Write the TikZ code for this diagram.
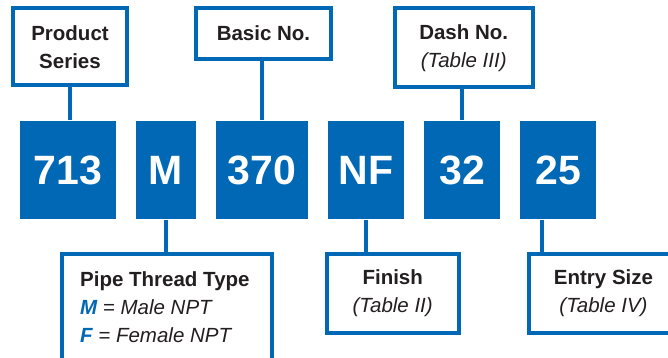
\documentclass[tikz,border=0pt]{standalone}
\usepackage{fontspec}
\setmainfont{Liberation Sans}
\definecolor{pnblue}{RGB}{0,104,180}
\definecolor{pntext}{RGB}{35,31,32}
\begin{document}
\begin{tikzpicture}[x=1pt,y=-1pt,
	label/.style={draw=pnblue,line width=4pt,fill=white,inner sep=0pt,align=center,text=pntext,font=\fontsize{20.5}{28}\selectfont\bfseries},
	part/.style={fill=pnblue,inner sep=0pt,minimum height=98.6pt,text=white,font=\fontsize{41}{41}\selectfont\bfseries},
	link/.style={pnblue,line width=4pt}]
		\useasboundingbox (0,0) rectangle (668,358);
		\clip (0,0) rectangle (668,358);
		\node[part,minimum width=95.5pt] (b713) at (68.2,170) {713};
		\node[part,minimum width=60pt] (bM) at (166,170) {M};
		\node[part,minimum width=92pt] (b370) at (262,170) {370};
		\node[part,minimum width=76pt] (bNF) at (366,170) {NF};
		\node[part,minimum width=76pt] (b32) at (462,170) {32};
		\node[part,minimum width=76pt] (b25) at (558,170) {25};
		\node[label,minimum width=114.3pt,minimum height=77.3pt] (ser) at (70,46.7) {Product\\Series};
		\node[label,minimum width=134.4pt,minimum height=51pt] (bas) at (263.5,33.5) {Basic No.};
		\node[label,minimum width=138pt,minimum height=79.3pt] (dsh) at (463.7,47.7) {Dash No.\\\mdseries\itshape (Table III)};
		\node[label,minimum width=209.7pt,minimum height=130pt] (pip) at (167.2,318.7) {};
		\node[label,minimum width=132pt,minimum height=79.3pt] (fin) at (392.7,293.3) {Finish\\\mdseries\itshape (Table II)};
		\node[label,minimum width=148.4pt,minimum height=79.3pt] (ent) at (603.5,293.3) {Entry Size\\\mdseries\itshape (Table IV)};
		\node[anchor=north west,inner sep=0pt,align=left,text=pntext,font=\fontsize{20.5}{28}\selectfont] (piptxt) at (80,271.7)
			{\bfseries Pipe Thread Type\\\itshape{\color{pnblue}\bfseries M} = Male NPT\\\itshape{\color{pnblue}\bfseries F} = Female NPT};
		\coordinate (e25) at ([xshift=22pt]b25.south west);
		\draw[link] (ser.south) -- (ser.south |- b713.north);
		\draw[link] (b370.north) -- (b370.north |- bas.south);
		\draw[link] (b32.north) -- (b32.north |- dsh.south);
		\draw[link] (bM.south) -- (bM.south |- pip.north);
		\draw[link] (bNF.south) -- (bNF.south |- fin.north);
		\draw[link] (e25) -- (e25 |- ent.north);
	\end{tikzpicture}
\end{document}
